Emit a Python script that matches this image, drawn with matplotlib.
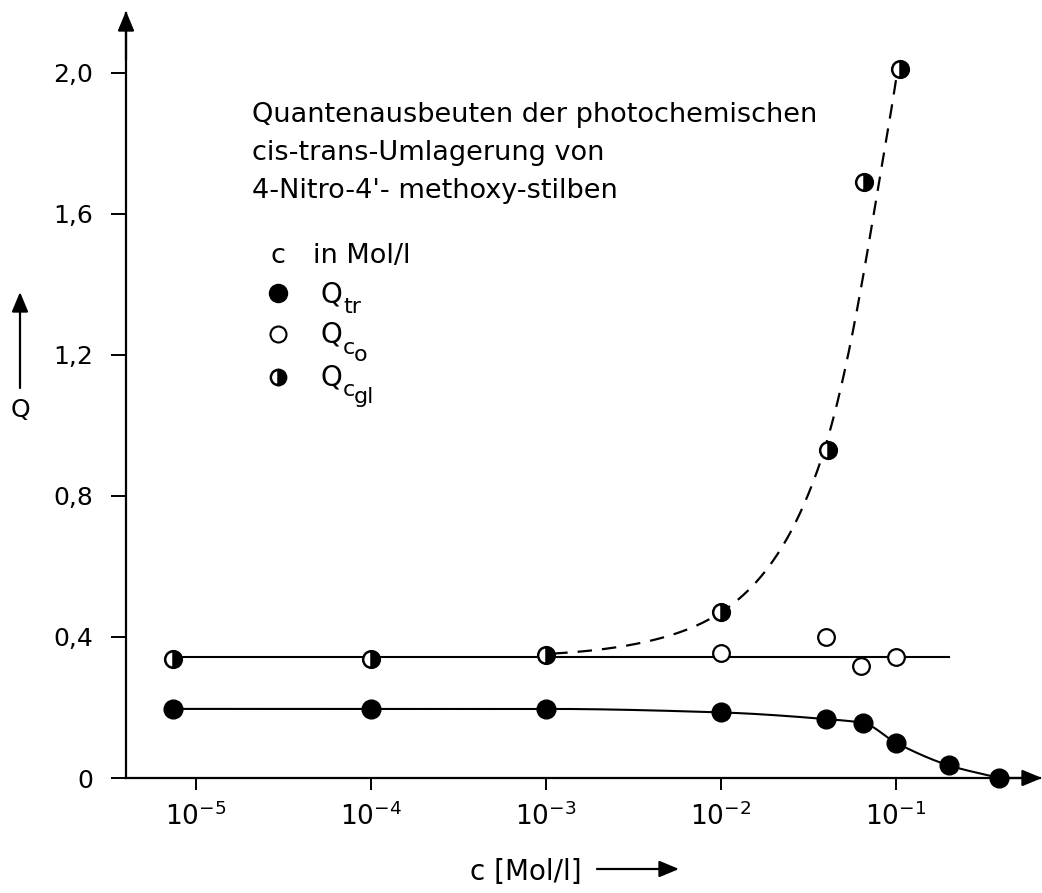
import numpy as np
import matplotlib
matplotlib.use("Agg")
import matplotlib.pyplot as plt
from matplotlib.ticker import FixedLocator, NullLocator, FixedFormatter

# ---------------- data ----------------
# concentration c in Mol/l
c_tr = [7.4e-6, 1e-4, 1e-3, 1e-2, 0.040, 0.065, 0.100, 0.200, 0.39]
q_tr = [0.196, 0.196, 0.196, 0.186, 0.167, 0.156, 0.100, 0.036, 0.000]

c_co = [1e-2, 0.040, 0.063, 0.100]
q_co = [0.355, 0.400, 0.317, 0.342]

c_cgl = [7.4e-6, 1e-4, 1e-3, 1e-2, 0.041, 0.066, 0.105]
q_cgl = [0.338, 0.338, 0.350, 0.470, 0.930, 1.690, 2.010]

# drawn guide curves
base_c = [7.4e-6, 0.2]          # horizontal line through Q_co / Q_cgl
base_q = [0.342, 0.342]
dash_c = [1.1e-3, 3e-3, 1e-2, 0.036, 0.080, 0.100]   # dashed curve for Q_cgl
dash_q = [0.353, 0.377, 0.470, 0.880, 1.690, 1.980]

x_ticks = [1e-5, 1e-4, 1e-3, 1e-2, 1e-1]
x_ticklabels = [r"$10^{-5}$", r"$10^{-4}$", r"$10^{-3}$", r"$10^{-2}$", r"$10^{-1}$"]
y_ticks = [0, 0.4, 0.8, 1.2, 1.6, 2.0]
y_ticklabels = ["0", "0,4", "0,8", "1,2", "1,6", "2,0"]

title_lines = ["Quantenausbeuten der photochemischen",
               "cis-trans-Umlagerung von",
               "4-Nitro-4'- methoxy-stilben"]
# key labels: (main symbol, first subscript, second-level subscript)
legend_parts = [("Q", "tr", ""), ("Q", "c", "o"), ("Q", "c", "gl")]


def pchip(x, y, xn):
    x = np.asarray(x, float); y = np.asarray(y, float); xn = np.asarray(xn, float)
    h = np.diff(x); d = np.diff(y) / h
    n = len(x); m = np.zeros(n)
    for k in range(1, n - 1):
        if d[k - 1] * d[k] > 0:
            w1 = 2 * h[k] + h[k - 1]; w2 = h[k] + 2 * h[k - 1]
            m[k] = (w1 + w2) / (w1 / d[k - 1] + w2 / d[k])
    m[0] = d[0]; m[-1] = d[-1]
    idx = np.clip(np.searchsorted(x, xn) - 1, 0, n - 2)
    t = (xn - x[idx]) / h[idx]
    h00 = 2 * t**3 - 3 * t**2 + 1; h10 = t**3 - 2 * t**2 + t
    h01 = -2 * t**3 + 3 * t**2; h11 = t**3 - t**2
    return (h00 * y[idx] + h10 * h[idx] * m[idx] + h01 * y[idx + 1]
            + h11 * h[idx] * m[idx + 1])


plt.rcParams["font.family"] = ["DejaVu Sans"]
plt.rcParams["mathtext.default"] = "regular"

W, H = 1042, 893
fig = plt.figure(figsize=(W / 100, H / 100), dpi=100)
L, R, T, B = 126, 1040, 13, 778
ax = fig.add_axes([L / W, 1 - B / H, (R - L) / W, (B - T) / H])

def fx(px):
    return px / W
def fy(py):
    return 1 - py / H

ax.set_xscale("log")
ax.set_xlim(10 ** -5.40, 10 ** -0.177)
ax.set_ylim(0, 2.170)

# guide lines
ax.plot(base_c, base_q, color="black", lw=1.5, zorder=2)
lx = np.linspace(np.log10(c_tr[0]), np.log10(c_tr[-1]), 400)
ax.plot(10 ** lx, pchip(np.log10(c_tr), q_tr, lx), color="black", lw=1.5, zorder=2)
b0 = base_q[0]
dx = np.linspace(np.log10(dash_c[0]), np.log10(dash_c[-1]), 400)
dy = pchip(np.log10(dash_c), np.log10(np.array(dash_q) - b0), dx)
ax.plot(10 ** dx, 10 ** dy + b0, color="black", lw=1.6, dashes=(6.5, 4.5), zorder=2)

# markers
ax.plot(c_tr, q_tr, "o", ms=13.5, color="black", zorder=4, clip_on=False)
ax.plot(c_co, q_co, "o", ms=12, mfc="white", mec="black", mew=1.6, zorder=4)
ax.plot(c_cgl, q_cgl, "o", ms=12, fillstyle="right", mfc="black",
        mfcalt="white", mec="black", mew=1.8, zorder=4)

# axes styling
for s in ["top", "right"]:
    ax.spines[s].set_visible(False)
for s in ["left", "bottom"]:
    ax.spines[s].set_linewidth(1.6)
ax.xaxis.set_major_locator(FixedLocator(x_ticks))
ax.xaxis.set_major_formatter(FixedFormatter(x_ticklabels))
ax.xaxis.set_minor_locator(NullLocator())
ax.yaxis.set_major_locator(FixedLocator(y_ticks))
ax.yaxis.set_major_formatter(FixedFormatter(y_ticklabels))
ax.tick_params(axis="x", direction="out", length=8.5, width=1.4, pad=9, labelsize=19)
ax.tick_params(axis="y", direction="out", length=10.5, width=1.4, pad=13, labelsize=18)

# axis arrow heads
arrow_kw = dict(arrowstyle="-|>,head_length=0.6,head_width=0.25", color="black",
                lw=1.6, shrinkA=0, shrinkB=0, mutation_scale=20)
fig.add_artist(matplotlib.patches.FancyArrowPatch((fx(1000), fy(B)), (fx(1042), fy(B)),
               transform=fig.transFigure, **arrow_kw))
fig.add_artist(matplotlib.patches.FancyArrowPatch((fx(L), fy(60)), (fx(L), fy(11)),
               transform=fig.transFigure, **arrow_kw))

# axis labels with arrows
fig.text(fx(20), fy(410), "Q", fontsize=18, ha="center", va="center")
fig.add_artist(matplotlib.patches.FancyArrowPatch((fx(20), fy(388)), (fx(20), fy(292)),
               transform=fig.transFigure, **arrow_kw))
fig.text(fx(470), fy(880), "c [Mol/l]", fontsize=20, ha="left", va="baseline")
fig.add_artist(matplotlib.patches.FancyArrowPatch((fx(597), fy(869)), (fx(679), fy(869)),
               transform=fig.transFigure, **arrow_kw))

# title block
for line, yb in zip(title_lines, [122, 160, 198]):
    fig.text(fx(252), fy(yb), line, fontsize=19.5, ha="left", va="baseline")

# key
fig.text(fx(270), fy(263), "c", fontsize=19.5, ha="left", va="baseline")
fig.text(fx(313), fy(263), "in Mol/l", fontsize=19.5, ha="left", va="baseline")
key_y = [293, 334, 377]
ax.plot([fx(278)], [fy(key_y[0])], "o", ms=13, color="black",
        transform=fig.transFigure, clip_on=False)
ax.plot([fx(278)], [fy(key_y[1])], "o", ms=11.5, mfc="white", mec="black", mew=1.5,
        transform=fig.transFigure, clip_on=False)
ax.plot([fx(278)], [fy(key_y[2])], "o", ms=11, fillstyle="right", mfc="black",
        mfcalt="white", mec="black", mew=1.8, transform=fig.transFigure, clip_on=False)
for (main, sub1, sub2), yb in zip(legend_parts, [302, 343, 385]):
    fig.text(fx(320), fy(yb), main, fontsize=20, ha="left", va="baseline")
    fig.text(fx(343), fy(yb + 11), sub1, fontsize=16, ha="left", va="baseline")
    if sub2:
        fig.text(fx(354), fy(yb + 18), sub2, fontsize=16, ha="left", va="baseline")

fig.savefig("out.png", dpi=100)
